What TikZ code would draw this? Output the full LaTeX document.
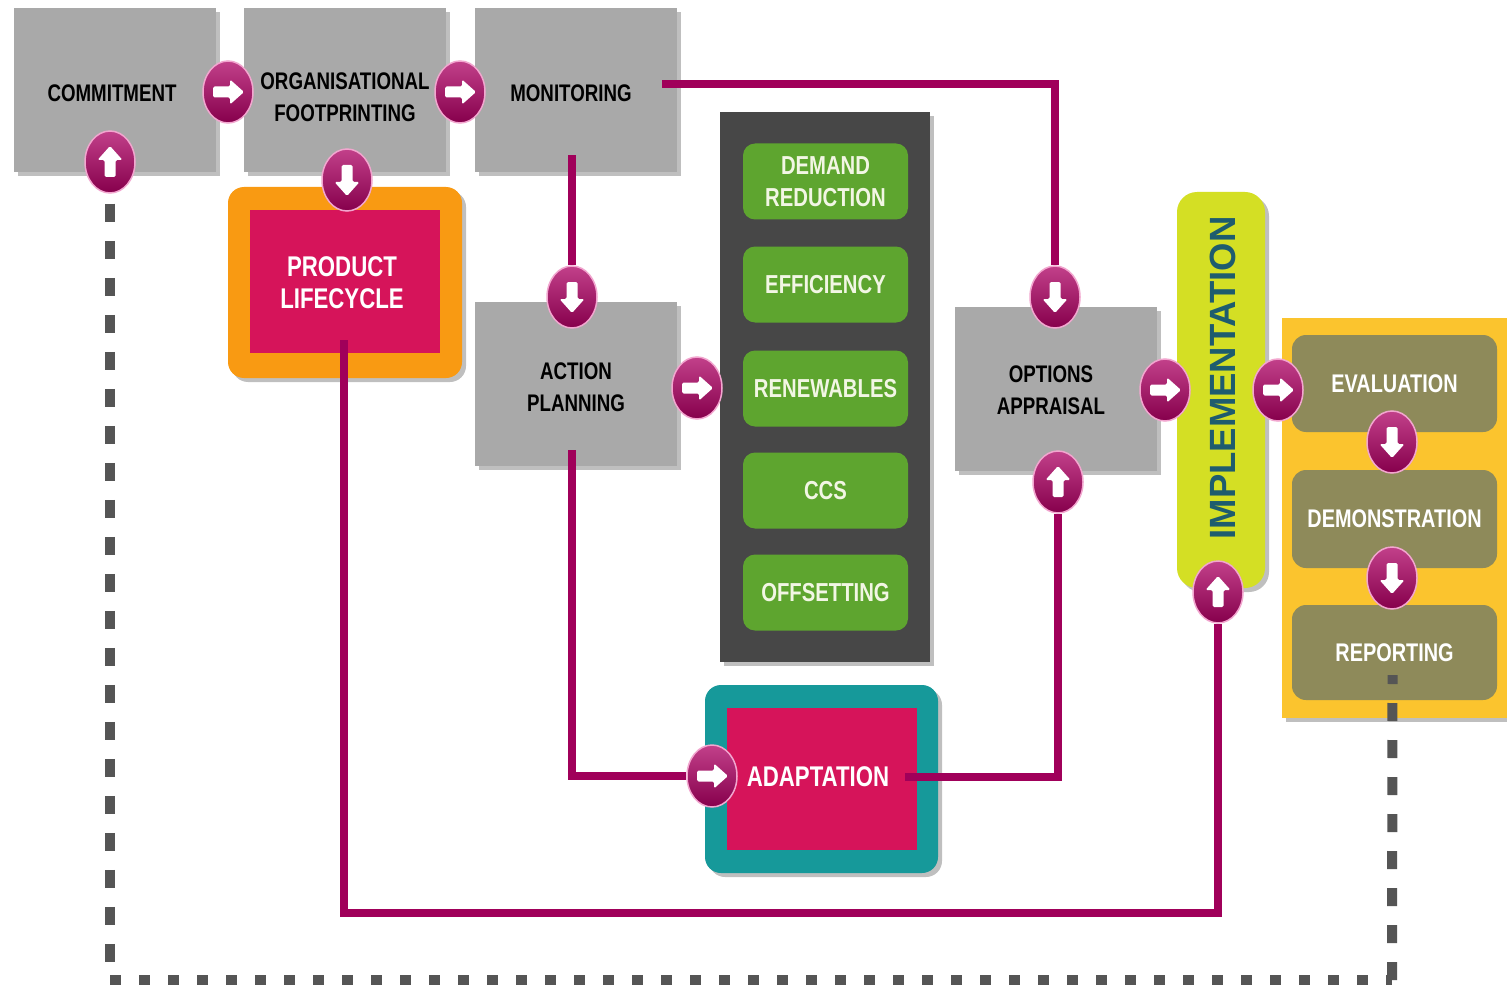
\documentclass[tikz,border=0pt]{standalone}
\usepackage{fontspec}
\newfontfamily\cond{Liberation Sans}[FakeStretch=0.78]
\newfontfamily\plainb{Liberation Sans}
\usetikzlibrary{shapes.geometric,shadows,calc}
\pgfdeclarelayer{conn}
\pgfdeclarelayer{btns}
\pgfsetlayers{main,conn,btns}
\definecolor{boxgray}{HTML}{A9A9A9}
\definecolor{mline}{HTML}{A0005A}
\definecolor{btntop}{HTML}{C2408A}
\definecolor{btnbot}{HTML}{86004C}
\definecolor{btnrim}{HTML}{F2A6CF}
\definecolor{plorange}{HTML}{F99A12}
\definecolor{crimson}{HTML}{D6145A}
\definecolor{darkpanel}{HTML}{474747}
\definecolor{greenbtn}{HTML}{5EA52F}
\definecolor{tealc}{HTML}{16999A}
\definecolor{impyel}{HTML}{D4DF24}
\definecolor{imptext}{HTML}{1E5C6E}
\definecolor{yelpanel}{HTML}{FBC42E}
\definecolor{olive}{HTML}{8E8A5A}
\definecolor{dashgray}{HTML}{555555}
\definecolor{paletext}{HTML}{F2F6E4}
\begin{document}
\begin{tikzpicture}[x=1pt,y=-1pt,
  shad/.style={drop shadow={shadow xshift=4pt,shadow yshift=-4pt,opacity=.25,fill=black}},
  graybox/.style={shad,fill=boxgray,minimum width=202,minimum height=164,inner sep=0},
  graytext/.style={inner sep=0,align=center,font=\cond\bfseries\fontsize{24}{32}\selectfont,text=black},
  greenbox/.style={fill=greenbtn,rounded corners=12,minimum width=165,minimum height=76,inner sep=0,align=center,
    font=\cond\bfseries\fontsize{26}{32}\selectfont,text=paletext},
  olivebox/.style={fill=olive,rounded corners=14,minimum width=205,inner sep=0,align=center,
    font=\cond\bfseries\fontsize{25.5}{32}\selectfont,text=white},
  redbox/.style={fill=crimson,inner sep=0,align=center,font=\cond\bfseries\fontsize{28.5}{32}\selectfont,text=white},
  frame/.style={shad,rounded corners=16,inner sep=0},
  btn/.style={ellipse,minimum width=50,minimum height=62,inner sep=0,draw=btnrim,line width=1.5,
    top color=btntop,bottom color=btnbot},
  arrowglyph/.style={fill=white,rounded corners=1.5},
  mconn/.style={draw=mline,line width=8},
  dconn/.style={draw=dashgray,line width=10}
]
\useasboundingbox[fill=white] (0,0) rectangle (1507,987);

% top row
\node[graybox] (com) at (114.5,90) {};
\node[graytext] (comt) at (112,93) {COMMITMENT};
\node[graybox] (org) at (345,90) {};
\node[graytext] (orgt) at (345,97) {ORGANISATIONAL\\FOOTPRINTING};
\node[graybox] (mon) at (576,90) {};
\node[graytext] (mont) at (571,93) {MONITORING};
\node[graybox] (ap) at (576,384) {};
\node[graytext] (apt) at (576,387) {ACTION\\PLANNING};
\node[graybox] (oa) at (1056,388.5) {};
\node[graytext] (oat) at (1051,390) {OPTIONS\\APPRAISAL};

% product lifecycle
\node[frame,fill=plorange,minimum width=234,minimum height=191] (plo) at (345,282.5) {};
\node[redbox,minimum width=190,minimum height=143] (pl) at (345,281.5) {};
\node[redbox,fill=none] (plt) at (342,283) {PRODUCT\\LIFECYCLE};

% dark panel with green buttons
\node[shad,fill=darkpanel,minimum width=210,minimum height=550,inner sep=0] (dp) at (825,387) {};
\node[greenbox] (g1) at (825.5,181.5) {DEMAND\\REDUCTION};
\node[greenbox] (g2) at (825.5,284.5) {EFFICIENCY};
\node[greenbox] (g3) at (825.5,388.5) {RENEWABLES};
\node[greenbox] (g4) at (825.5,490.5) {CCS};
\node[greenbox] (g5) at (825.5,592.5) {OFFSETTING};

% adaptation
\node[frame,fill=tealc,minimum width=233,minimum height=188] (ado) at (821.5,779) {};
\node[redbox,minimum width=190,minimum height=142] (ad) at (822,779) {};
\node[redbox,fill=none] (adt) at (818,777) {ADAPTATION};

% implementation
\node[shad,fill=impyel,rounded corners=20,minimum width=88,minimum height=396,inner sep=0] (imp) at (1221,390) {};
\node[rotate=90,text=imptext,font=\plainb\bfseries\fontsize{36.5}{40}\selectfont,inner sep=0] (impt) at (1223,378) {IMPLEMENTATION};

% yellow panel
\node[shad,fill=yelpanel,minimum width=225,minimum height=400,inner sep=0] (yp) at (1394.5,518) {};
\node[olivebox,minimum height=97] (ev) at (1394.5,383.5) {EVALUATION};
\node[olivebox,minimum height=98] (dem) at (1394.5,519) {DEMONSTRATION};
\node[olivebox,minimum height=95] (rep) at (1394.5,652.5) {REPORTING};

% buttons
\begin{pgfonlayer}{btns}
\foreach \b/\x/\y/\a in {b1/228/92/0, b2/460/92/0, b3/110/162/90, b4/347/180/-90,
    b5/572/297/-90, b6/697/388/0, b7/1055/297/-90, b8/1165/390/0, b9/1278/390/0,
    b10/1058/482/90, b11/1218/592/90, b12/1392/442/-90, b13/1392/578/-90, b14/712/776/0}{
  \node[btn] (\b) at (\x,\y) {};
  \fill[arrowglyph,shift={(\b.center)},rotate=\a]
    (-15,-5.5) -- (2,-5.5) -- (2,-12.5) -- (16,0) -- (2,12.5) -- (2,5.5) -- (-15,5.5) -- cycle;
}
\end{pgfonlayer}

% connector end points
\coordinate (m1) at ($(mon.east)+(-15,-6)$);
\coordinate (m2) at ($(mon.south)+(-4,-17)$);
\coordinate (a1) at ($(ap.south)+(-4,-16)$);
\coordinate (ad1) at ($(ad.east)+(-12,-2)$);
\coordinate (p1) at ($(pl.south)+(-1,-13)$);
\coordinate (pc) at (344,913);
\coordinate (r1) at ($(rep.south)+(-2,-25)$);
\coordinate (dc1) at (110,980);
\coordinate (dc2) at (1392,980);

% connectors
\begin{pgfonlayer}{conn}
\draw[mconn] (m1) -| (b7.north);
\draw[mconn] (m2) -- (b5.north);
\draw[mconn] (a1) |- (b14.west);
\draw[mconn] (ad1) -| (b10.south);
\draw[mconn] (p1) -- (pc) -| (b11.south);
\draw[dconn,dash pattern=on 18 off 19] ($(b3.south)+(0,10)$) -- (dc1);
\draw[dconn,dash pattern=on 11 off 18] (dc1) -- (dc2);
\draw[dconn,dash pattern=on 18 off 19] (dc2) -- (r1);
\end{pgfonlayer}
\end{tikzpicture}
\end{document}
